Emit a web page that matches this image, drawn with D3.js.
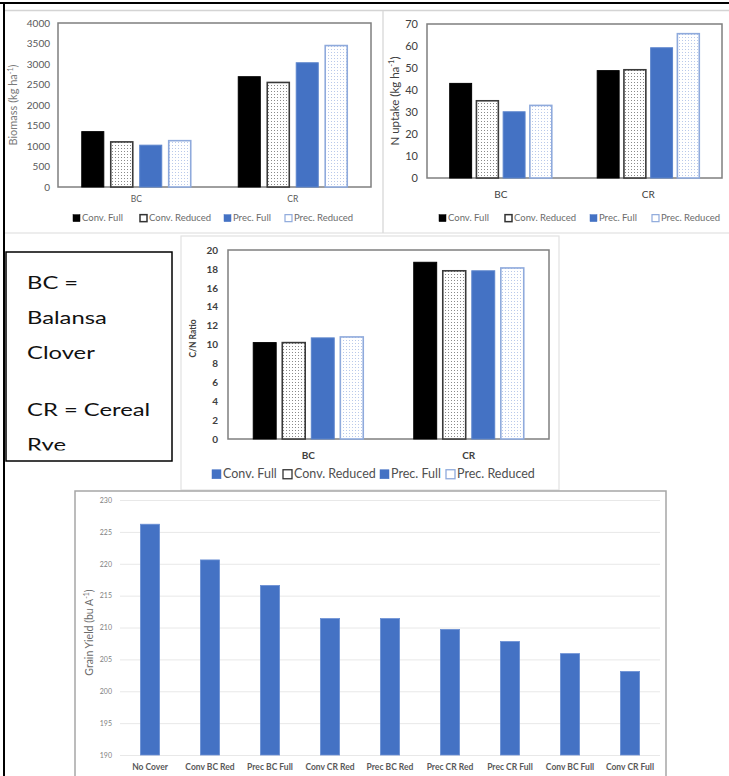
<!DOCTYPE html>
<html>
<head>
<meta charset="utf-8">
<script src="https://cdn.jsdelivr.net/npm/d3@7"></script>
<style>
  html, body { margin: 0; padding: 0; background: #fff; }
  svg { display: block; font-family: Lato, "Open Sans", sans-serif; }
</style>
</head>
<body>
<svg id="chart" width="729" height="776"></svg>
<script>
// ---------------- DATA ----------------
const groups = ["BC", "CR"];
const seriesNames = ["Conv. Full", "Conv. Reduced", "Prec. Full", "Prec. Reduced"];

const biomassBC = [1350, 1100, 1020, 1130];
const biomassCR = [2690, 2550, 3030, 3450];
const biomassTicks = [0, 500, 1000, 1500, 2000, 2500, 3000, 3500, 4000];

const nUptakeBC = [43.0, 35.1, 30.1, 33.0];
const nUptakeCR = [48.8, 49.2, 59.2, 65.6];
const nUptakeTicks = [0, 10, 20, 30, 40, 50, 60, 70];

const cnBC = [10.2, 10.2, 10.7, 10.8];
const cnCR = [18.7, 17.8, 17.8, 18.1];
const cnTicks = [0, 2, 4, 6, 8, 10, 12, 14, 16, 18, 20];

const yieldCategories = ["No Cover", "Conv BC Red", "Prec BC Full", "Conv CR Red", "Prec BC Red",
                         "Prec CR Red", "Prec CR Full", "Conv BC Full", "Conv CR Full"];
const yieldValues = [226.2, 220.6, 216.6, 211.4, 211.4, 209.7, 207.8, 205.9, 203.1];
const yieldTicks = [190, 195, 200, 205, 210, 215, 220, 225, 230];

const noteLines = ["BC =", "Balansa", "Clover", "", "CR = Cereal", "Rye"];

// ---------------- STYLE ----------------
const BLUE = "#4472C4";
const LIGHTBLUE = "#8FAADC";

const svg = d3.select("#chart");
const defs = svg.append("defs");

function dotPattern(id, dotColor) {
  const p = defs.append("pattern").attr("id", id)
    .attr("patternUnits", "userSpaceOnUse").attr("width", 3).attr("height", 3);
  p.append("rect").attr("width", 3).attr("height", 3).attr("fill", "#fff");
  p.append("rect").attr("x", 1).attr("y", 1).attr("width", 1).attr("height", 1).attr("fill", dotColor);
}
dotPattern("dotsGray", "#8a8a8a");
dotPattern("dotsBlue", "#b9c9ea");

const barStyle = [
  { fill: "#000", stroke: "#000", sw: 1 },
  { fill: "url(#dotsGray)", stroke: "#3a3a3a", sw: 1.6 },
  { fill: BLUE, stroke: "#5b84cc", sw: 1 },
  { fill: "url(#dotsBlue)", stroke: LIGHTBLUE, sw: 1.6 }
];

// ---------------- PAGE DECORATION ----------------
const deco = svg.append("g");
deco.append("line").attr("x1", 0).attr("x2", 729).attr("y1", 3).attr("y2", 3).attr("stroke", "#000").attr("stroke-width", 2);
deco.append("line").attr("x1", 4).attr("x2", 4).attr("y1", 3).attr("y2", 776).attr("stroke", "#000").attr("stroke-width", 2);
deco.append("line").attr("x1", 5).attr("x2", 729).attr("y1", 10.5).attr("y2", 10.5).attr("stroke", "#d4d4d4").attr("stroke-width", 1.5);
deco.append("line").attr("x1", 383).attr("x2", 383).attr("y1", 11).attr("y2", 233).attr("stroke", "#dcdcdc").attr("stroke-width", 1.5);
deco.append("line").attr("x1", 5).attr("x2", 729).attr("y1", 233).attr("y2", 233).attr("stroke", "#dcdcdc").attr("stroke-width", 1.2);
deco.append("rect").attr("x", 181).attr("y", 236).attr("width", 378).attr("height", 254)
  .attr("fill", "#fff").attr("stroke", "#e2e2e2").attr("stroke-width", 1.2);
deco.append("rect").attr("x", 75).attr("y", 491).attr("width", 591).attr("height", 300)
  .attr("fill", "#fff").attr("stroke", "#a6a6a6").attr("stroke-width", 1.5);

// ---------------- GROUPED CHART ----------------
function groupedChart(o) {
  const g = svg.append("g");
  const y = d3.scaleLinear().domain([o.ticks[0], o.ticks[o.ticks.length - 1]]).range([o.bottom, o.top]);
  const x0 = d3.scaleBand().domain(groups).range([o.left, o.right]).paddingInner(0).paddingOuter(0);
  const x1 = d3.scaleBand().domain(seriesNames).range([0, x0.bandwidth()])
    .paddingInner(o.pIn).paddingOuter(o.pOut);

  g.append("rect").attr("x", o.left).attr("y", o.top)
    .attr("width", o.right - o.left).attr("height", o.bottom - o.top)
    .attr("fill", "none").attr("stroke", "#7f7f7f").attr("stroke-width", 1.5);

  const ax = g.append("g").attr("transform", `translate(${o.left},0)`)
    .call(d3.axisLeft(y).tickValues(o.ticks).tickSize(0).tickPadding(o.tickPad).tickFormat(d3.format("d")));
  ax.select(".domain").remove();
  ax.selectAll("text").attr("font-family", "Lato, sans-serif").attr("font-size", o.tickSize)
    .attr("font-weight", o.bold ? "bold" : "normal").attr("fill", o.tickColor);

  g.selectAll(".cat").data(groups).join("text")
    .attr("x", d => x0(d) + x0.bandwidth() / 2).attr("y", o.catY)
    .attr("text-anchor", "middle").attr("font-size", o.catSize)
    .attr("font-weight", o.bold ? "bold" : "normal").attr("fill", o.tickColor).text(d => d);

  const data = [];
  groups.forEach((gr, gi) => o.values[gi].forEach((v, si) => data.push({ gr, s: seriesNames[si], si, v })));
  g.selectAll(".bar").data(data).join("rect")
    .attr("x", d => x0(d.gr) + x1(d.s)).attr("width", x1.bandwidth())
    .attr("y", d => y(d.v)).attr("height", d => y(o.ticks[0]) - y(d.v))
    .attr("fill", d => barStyle[d.si].fill).attr("stroke", d => barStyle[d.si].stroke)
    .attr("stroke-width", d => barStyle[d.si].sw);

  const t = g.append("text")
    .attr("transform", `translate(${o.titleX},${(o.top + o.bottom) / 2 + o.titleDy}) rotate(-90)`)
    .attr("text-anchor", "middle").attr("font-size", o.titleSize)
    .attr("font-weight", o.bold ? "bold" : "normal").attr("fill", o.titleColor);
  t.append("tspan").text(o.title[0]);
  if (o.title[1]) {
    t.append("tspan").attr("font-size", o.titleSize * 0.65).attr("dy", -o.titleSize * 0.4).text(o.title[1]);
    t.append("tspan").attr("dy", o.titleSize * 0.4).text(o.title[2]);
  }

  const lg = g.append("g");
  o.legendX.forEach((lx, i) => {
    const st = o.legendStyle[i];
    lg.append("rect").attr("x", lx).attr("y", o.legendY - o.mk / 2 - o.legendSize * 0.3)
      .attr("width", o.mk).attr("height", o.mk)
      .attr("fill", st.fill).attr("stroke", st.stroke).attr("stroke-width", st.sw);
    lg.append("text").attr("x", lx + o.mk + 2).attr("y", o.legendY)
      .attr("font-size", o.legendSize).attr("fill", o.legendColor).text(seriesNames[i]);
  });
}

const legendStyleSmall = [
  { fill: "#000", stroke: "#000", sw: 0.5 },
  { fill: "#fff", stroke: "#333", sw: 1.5 },
  { fill: BLUE, stroke: BLUE, sw: 0.5 },
  { fill: "#fff", stroke: LIGHTBLUE, sw: 1.2 }
];

// Biomass
groupedChart({
  values: [biomassBC, biomassCR], ticks: biomassTicks,
  left: 58, right: 371, top: 23, bottom: 187, pIn: 0.24, pOut: 0.82,
  tickPad: 8, tickSize: 10, tickColor: "#595959", bold: false,
  catY: 202, catSize: 8.5,
  title: ["Biomass (kg ha", "-1", ")"], titleX: 17, titleDy: 0, titleSize: 11, titleColor: "#7a7a7a",
  legendX: [73, 140, 224, 285], legendY: 221, legendSize: 9.5, legendColor: "#6b6b6b", mk: 7,
  legendStyle: legendStyleSmall
});

// N uptake
groupedChart({
  values: [nUptakeBC, nUptakeCR], ticks: nUptakeTicks,
  left: 427, right: 722, top: 24, bottom: 178, pIn: 0.18, pOut: 0.85,
  tickPad: 9, tickSize: 11, tickColor: "#404040", bold: false,
  catY: 198, catSize: 10,
  title: ["N uptake (kg ha", "-1", ")"], titleX: 399, titleDy: 0, titleSize: 11.5, titleColor: "#404040",
  legendX: [439, 505, 590, 652], legendY: 221, legendSize: 9.5, legendColor: "#6b6b6b", mk: 7,
  legendStyle: legendStyleSmall
});

// C/N ratio
groupedChart({
  values: [cnBC, cnCR], ticks: cnTicks,
  left: 228, right: 549, top: 250, bottom: 439, pIn: 0.21, pOut: 0.87,
  tickPad: 10, tickSize: 10, tickColor: "#404040", bold: true,
  catY: 459, catSize: 10,
  title: ["C/N Ratio"], titleX: 196, titleDy: -6, titleSize: 8.5, titleColor: "#404040",
  legendX: [212, 283, 380, 446], legendY: 478, legendSize: 12.5, legendColor: "#505050", mk: 9,
  legendStyle: [
    { fill: BLUE, stroke: BLUE, sw: 0.5 },
    { fill: "#fff", stroke: "#333", sw: 1.3 },
    { fill: BLUE, stroke: BLUE, sw: 0.5 },
    { fill: "#fff", stroke: LIGHTBLUE, sw: 1.3 }
  ]
});

// ---------------- NOTE BOX ----------------
const note = svg.append("g");
defs.append("clipPath").attr("id", "noteClip").append("rect")
  .attr("x", 6).attr("y", 252).attr("width", 166).attr("height", 198.5);
const noteBase = [];
{
  let yy = 289;
  noteLines.forEach((d, i) => {
    noteBase.push(yy);
    yy += (d === "" || noteLines[i + 1] === "") ? 28.5 : 35;
  });
}
note.append("g").attr("clip-path", "url(#noteClip)")
  .selectAll("text").data(noteLines).join("text")
  .attr("transform", (d, i) => `translate(27,${noteBase[i]}) scale(1.36,1)`)
  .attr("font-family", "Lato, sans-serif").attr("font-size", 17.5).attr("fill", "#111")
  .text(d => d);
note.append("rect").attr("x", 6).attr("y", 252).attr("width", 166).attr("height", 209)
  .attr("fill", "none").attr("stroke", "#000").attr("stroke-width", 1.5);

// ---------------- YIELD CHART ----------------
(function () {
  const g = svg.append("g");
  const left = 120, right = 660, top = 500, bottom = 755;
  const y = d3.scaleLinear().domain([190, 230]).range([bottom, top]);
  const x = d3.scaleBand().domain(yieldCategories).range([left, right]).paddingInner(0.68).paddingOuter(0.34);

  const ax = g.append("g").attr("transform", `translate(${left},0)`)
    .call(d3.axisLeft(y).tickValues(yieldTicks).tickSize(-(right - left)).tickPadding(8));
  ax.select(".domain").remove();
  ax.selectAll("line").attr("stroke", "#e8e8e8").attr("stroke-width", 1);
  ax.selectAll("text").attr("font-family", "Lato, sans-serif").attr("font-size", 7).attr("fill", "#7f7f7f");

  g.selectAll(".ybar").data(yieldValues).join("rect")
    .attr("x", (d, i) => x(yieldCategories[i])).attr("width", x.bandwidth())
    .attr("y", d => y(d)).attr("height", d => y(190) - y(d))
    .attr("fill", BLUE).attr("stroke", "#6b90d4").attr("stroke-width", 0.8);

  g.selectAll(".ycat").data(yieldCategories).join("text")
    .attr("x", d => x(d) + x.bandwidth() / 2).attr("y", 770)
    .attr("text-anchor", "middle").attr("font-size", 8.5).attr("font-weight", "bold")
    .attr("fill", "#595959").text(d => d);

  const t = g.append("text")
    .attr("transform", `translate(93,${(top + bottom) / 2 + 5}) rotate(-90)`)
    .attr("text-anchor", "middle").attr("font-size", 10.5).attr("fill", "#6b6b6b");
  t.append("tspan").text("Grain Yield (bu A");
  t.append("tspan").attr("font-size", 7).attr("dy", -4).text("-1");
  t.append("tspan").attr("dy", 4).text(")");
})();
</script>
</body>
</html>
